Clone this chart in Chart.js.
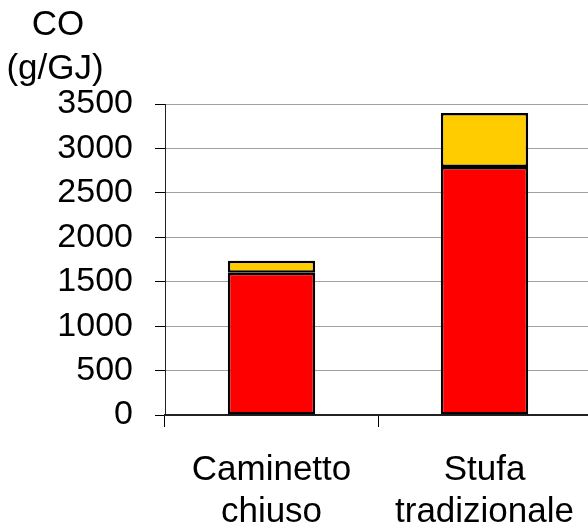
<!DOCTYPE html>
<html>
<head>
<meta charset="utf-8">
<script src="https://cdn.jsdelivr.net/npm/chart.js@4/dist/chart.umd.min.js"></script>
<style>
  html, body { margin: 0; padding: 0; background: #fff; overflow: hidden; }
  #wrap { width: 596px; height: 528px; }
</style>
</head>
<body>
<div id="wrap"><canvas id="coChart" width="596" height="528"></canvas></div>
<script>
// Data
const categories = [['Caminetto', 'chiuso'], ['Stufa', 'tradizionale']];
const redValues = [1600, 2790];
const yellowValues = [135, 610];
const yTitle = ['CO', '(g/GJ)'];
const FONT = 'Liberation Sans, Arial, sans-serif';

// Unit label above the y axis
const unitTitle = {
  id: 'unitTitle',
  afterDraw(chart) {
    const { ctx, chartArea } = chart;
    ctx.save();
    ctx.font = '35px ' + FONT;
    ctx.fillStyle = '#000';
    ctx.textAlign = 'center';
    ctx.textBaseline = 'alphabetic';
    ctx.fillText(yTitle[0], 58, chartArea.top - 69);
    ctx.fillText(yTitle[1], 55, chartArea.top - 25);
    ctx.restore();
  }
};

new Chart(document.getElementById('coChart'), {
  type: 'bar',
  data: {
    labels: categories,
    datasets: [
      { data: redValues, backgroundColor: '#ff0000', borderColor: '#000', borderWidth: 2.5, borderSkipped: false },
      { data: yellowValues, backgroundColor: '#ffcc00', borderColor: '#000', borderWidth: 2.5, borderSkipped: false }
    ]
  },
  options: {
    responsive: false,
    animation: false,
    layout: { padding: { top: 104, right: 0, left: 0, bottom: 0 } },
    datasets: { bar: { categoryPercentage: 1, barPercentage: 0.41 } },
    plugins: { legend: { display: false }, tooltip: { enabled: false } },
    scales: {
      x: {
        stacked: true,
        afterFit: s => { s.height = 113; },
        grid: { drawOnChartArea: false, drawTicks: true, tickLength: 12, color: '#000', offset: true },
        border: { color: '#222', width: 2 },
        ticks: { color: '#000', padding: 22, maxRotation: 0, font: { family: FONT, size: 35 } }
      },
      y: {
        stacked: true,
        min: 0, max: 3500,
        afterFit: s => { s.width = 165; },
        grid: { color: '#a0a0a0', tickColor: '#000', tickLength: 10 },
        border: { color: '#222', width: 1 },
        ticks: { stepSize: 500, color: '#000', padding: 22, font: { family: FONT, size: 34 },
                 callback: v => String(v) }
      }
    }
  },
  plugins: [unitTitle]
});
</script>
</body>
</html>
